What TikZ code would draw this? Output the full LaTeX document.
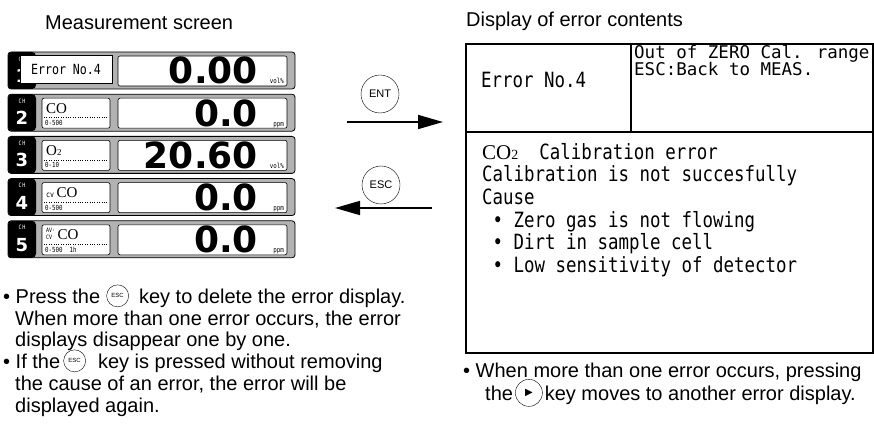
\documentclass[tikz,border=0pt]{standalone}
\usepackage{fontspec}
\setmainfont{Liberation Sans}
\newfontfamily\lcdfont[FakeStretch=0.83]{DejaVu Sans Mono}
\newfontfamily\lcdwide{DejaVu Sans Mono}
\newfontfamily\segfont{DejaVu Sans}
\newfontfamily\gasfont{Liberation Serif}
\usetikzlibrary{arrows.meta,positioning}
\newcommand{\fsz}[1]{\fontsize{#1}{#1}\selectfont}

\begin{document}
\begin{tikzpicture}[x=1pt, y=-1pt,
    rowframe/.style={draw=black, line width=0.8pt, fill=black!30, rounded corners=3pt},
    chtab/.style={fill=black, rounded corners=4pt},
    winbox/.style={draw=black, line width=0.6pt, fill=white, rounded corners=2pt},
    chlbl/.style={text=white, font=\lcdfont\fsz{6}, inner sep=0pt},
    chnum/.style={text=white, font=\segfont\bfseries\fsz{18}, inner sep=0pt},
    gaslbl/.style={font=\gasfont\fsz{15}, anchor=base west, inner sep=0pt},
    rnglbl/.style={font=\lcdfont\fsz{7}, anchor=base west, inner sep=0pt},
    reading/.style={font=\segfont\bfseries\fsz{36}, anchor=base east, inner sep=0pt},
    unitlbl/.style={font=\lcdfont\fsz{7}, anchor=base east, inner sep=0pt},
    lcd/.style={font=\lcdfont\fsz{21}, inner sep=0pt},
    txt/.style={font=\fsz{20}, inner sep=0pt, anchor=base west},
    keycirc/.style={draw, circle, minimum size=38pt, inner sep=0pt, font=\fsz{11}},
    smallkey/.style={draw, circle, minimum size=22pt, inner sep=0pt, font=\fsz{6}},
    arr/.style={-{Triangle[length=25pt, width=14pt]}, line width=1.6pt}
]
\useasboundingbox (0,0) rectangle (874,430);

% measurement screen
\node[txt] (mtitle) at (45,30) {Measurement screen};
\foreach \n/\gas/\rng/\val/\runit in {1/{}/{}/0.00/vol\%, 2/CO/0-500/0.0/ppm,
    3/{O{\fsz{9}2}}/0-10/20.60/vol\%, 4/{{\lcdfont\fsz{8}cv}\,CO}/0-500/0.0/ppm,
    5/{\shortstack[l]{\lcdfont\fsz{6}AV·\\\lcdfont\fsz{6}CV}\,CO}/{0-500\ \ 1h}/0.0/ppm} {
  \pgfmathsetmacro\rowtop{52+42.2*(\n-1)}
  \draw[rowframe] (8,\rowtop) rectangle (295,\rowtop+37);
  \fill[chtab] (8,\rowtop) rectangle (36,\rowtop+37);
  \node[chlbl] (ch\n) at (22,\rowtop+7) {C\,H};
  \node[chnum] (num\n) at (22,\rowtop+24) {\n};
  \ifnum\n>1
    \draw[winbox] (42,\rowtop+4) rectangle (110,\rowtop+34);
    \draw[dotted] (44,\rowtop+23.5) -- (108,\rowtop+23.5);
    \node[gaslbl] (gas\n) at (46,\rowtop+19) {\gas};
    \node[rnglbl] (rng\n) at (45,\rowtop+31.5) {\rng};
  \fi
  \draw[winbox] (118,\rowtop+4) rectangle (287,\rowtop+34);
  \node[reading] (val\n) at (258,\rowtop+32) {\val};
  \node[unitlbl] (unit\n) at (284,\rowtop+32) {\runit};
}
\node[draw, fill=white, line width=0.8pt, minimum width=92pt, minimum height=28pt,
  inner sep=0pt, font=\lcdfont\fsz{14}] (errbox) at (66,69) {Error No.4};

% keys and arrows
\node[keycirc] (ent) at (380,94) {ENT};
\node[keycirc] (esc) at (381,185) {ESC};
\coordinate (entS) at (347,122);
\coordinate (entE) at (443,122);
\coordinate (escS) at (432,208);
\coordinate (escE) at (335,208);
\draw[arr] (entS) -- (entE);
\draw[arr] (escS) -- (escE);

% error contents
\node[txt] (dtitle) at (466,27) {Display of error contents};
\draw[line width=1.2pt] (466,44) rectangle (873,353);
\draw[line width=1.2pt] (466,132) -- (873,132);
\draw[line width=1.2pt] (631,44) -- (631,132);
\node[lcd, anchor=west] (errno) at (481,80) {Error No.4};
\node[lcd, font=\lcdwide\fsz{17.5}, anchor=base west] (errmsga) at (634,59) {Out of ZERO Cal. range};
\node[lcd, font=\lcdwide\fsz{17.5}, anchor=base west] (errmsgb) at (634,76) {ESC:Back to MEAS.};
\node[lcd, anchor=north west, align=left, font=\lcdfont\fontsize{21}{22.6}\selectfont]
  (errbody) at (482,143) {{\gasfont CO\fsz{14}2}~~Calibration error\\
  Calibration is not succesfully\\Cause\\
  ~•~Zero gas is not flowing\\~•~Dirt in sample cell\\~•~Low sensitivity of detector};

% notes
\node[txt] (b1a) at (3,303) {\textbullet\ Press the};
\node[smallkey, right=6pt of b1a] (kesc1) {ESC};
\node[txt] (b1b) at ([xshift=10pt]kesc1.east |- b1a.base) {key to delete the error display.};
\node[txt] (b2) at (15,325) {When more than one error occurs, the error};
\node[txt] (b3) at (15,346.5) {displays disappear one by one.};
\node[txt] (b4a) at (3,368) {\textbullet\ If the};
\node[smallkey, right=3pt of b4a] (kesc2) {ESC};
\node[txt] (b4b) at ([xshift=12pt]kesc2.east |- b4a.base) {key is pressed without removing};
\node[txt] (b5) at (15,390) {the cause of an error, the error will be};
\node[txt] (b6) at (15,412) {displayed again.};

\node[txt] (r1) at (463,377) {\textbullet\ When more than one error occurs, pressing};
\node[txt] (r2a) at (485,400) {the};
\node[smallkey, minimum size=27pt, font=\segfont\fsz{10}, right=2pt of r2a] (knext) {▶};
\node[txt] (r2b) at ([xshift=2pt]knext.east |- r2a.base) {key moves to another error display.};
\end{tikzpicture}
\end{document}
